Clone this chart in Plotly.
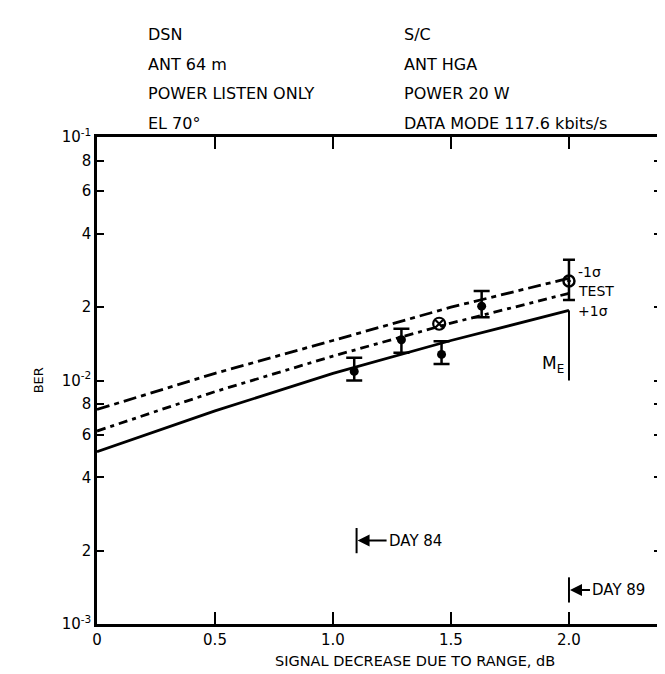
import numpy as np
import plotly.graph_objects as go

# signal decrease (dB) where the three curves were read
curve_x = [0.0, 0.5, 1.0, 1.5, 2.0]
ber_minus1s = [7.6e-3, 1.07e-2, 1.46e-2, 2.0e-2, 2.63e-2]
ber_test = [6.2e-3, 9.0e-3, 1.26e-2, 1.72e-2, 2.28e-2]
ber_plus1s = [5.1e-3, 7.5e-3, 1.07e-2, 1.46e-2, 1.94e-2]

# measured points with error bars
pt_x = [1.09, 1.29, 1.46, 1.63]
pt_y = [1.09e-2, 1.47e-2, 1.28e-2, 2.02e-2]
pt_hi = [1.24e-2, 1.63e-2, 1.45e-2, 2.33e-2]
pt_lo = [1.00e-2, 1.30e-2, 1.17e-2, 1.82e-2]

cross_x = [1.45]
cross_y = [1.71e-2]

end_x = [2.0]
end_y = [2.56e-2]
end_hi = [3.13e-2]
end_lo = [2.14e-2]

me_x = [2.0, 2.0]
me_y = [1.0e-2, 1.94e-2]

day_x = [1.10, 2.0]
day_y = [2.2e-3, 1.38e-3]
day_text = ["DAY 84", "DAY 89"]

y_tickvals = [1e-3, 2e-3, 4e-3, 6e-3, 8e-3, 1e-2, 2e-2, 4e-2, 6e-2, 8e-2, 1e-1]
y_ticktext = ["10<sup>-3</sup>", "2", "4", "6", "8", "10<sup>-2</sup>", "2", "4", "6", "8", "10<sup>-1</sup>"]
x_tickvals = [0, 0.5, 1.0, 1.5, 2.0]
x_ticktext = ["0", "0.5", "1.0", "1.5", "2.0"]

header_left = ["DSN", "ANT 64 m", "POWER LISTEN ONLY", "EL 70°"]
header_right = ["S/C", "ANT HGA", "POWER 20 W", "DATA MODE 117.6 kbits/s"]

FONT = "DejaVu Sans"
ink = "black"

fig = go.Figure()

fig.add_trace(go.Scatter(x=curve_x, y=ber_minus1s, mode="lines",
                         line=dict(color=ink, width=2.8, dash="13px,5px,5px,5px")))
fig.add_trace(go.Scatter(x=curve_x, y=ber_test, mode="lines",
                         line=dict(color=ink, width=2.8, dash="9px,5px,4px,5px")))
fig.add_trace(go.Scatter(x=curve_x, y=ber_plus1s, mode="lines",
                         line=dict(color=ink, width=2.8)))

fig.add_trace(go.Scatter(x=me_x, y=me_y, mode="lines", line=dict(color=ink, width=2)))

fig.add_trace(go.Scatter(
    x=pt_x, y=pt_y, mode="markers",
    marker=dict(color=ink, size=9),
    error_y=dict(type="data", symmetric=False,
                 array=np.array(pt_hi) - np.array(pt_y),
                 arrayminus=np.array(pt_y) - np.array(pt_lo),
                 color=ink, thickness=2.5, width=8),
))
fig.add_trace(go.Scatter(
    x=end_x, y=end_y, mode="markers",
    marker=dict(color=ink, size=11, symbol="circle-open-dot", line=dict(width=2.5)),
    error_y=dict(type="data", symmetric=False,
                 array=np.array(end_hi) - np.array(end_y),
                 arrayminus=np.array(end_y) - np.array(end_lo),
                 color=ink, thickness=2.5, width=6),
))
fig.add_trace(go.Scatter(
    x=cross_x, y=cross_y, mode="markers",
    marker=dict(color=ink, size=12, symbol="circle-x-open", line=dict(width=2.2)),
))

# day markers: vertical bar with an arrow pointing at it
fig.add_trace(go.Scatter(
    x=day_x, y=day_y, mode="markers",
    marker=dict(symbol="line-ns-open", size=18, color=ink, line=dict(color=ink, width=2)),
))

annotations = []
for dx, dy, dt, arrow_len in zip(day_x, day_y, day_text, [30, 21]):
    annotations.append(dict(
        x=dx, y=np.log10(dy), xref="x", yref="y", text=dt,
        showarrow=True, ax=arrow_len, ay=0, xanchor="left",
        arrowhead=2, arrowsize=1.2, arrowwidth=2, arrowcolor=ink, standoff=1,
        font=dict(family=FONT, size=15, color=ink),
    ))

# curve labels, nudged apart a little so they stack like the original
for lbl, vals, shift in zip(["-1σ", "TEST", "+1σ"], [ber_minus1s, ber_test, ber_plus1s], [6, 2, -1]):
    annotations.append(dict(
        x=curve_x[-1], y=np.log10(vals[-1]), xref="x", yref="y", text=lbl,
        showarrow=False, xanchor="left", xshift=7, yshift=shift,
        font=dict(family=FONT, size=14, color=ink),
    ))

annotations.append(dict(
    x=me_x[0], y=np.log10(1.16e-2), xref="x", yref="y", text="M<sub>E</sub>",
    showarrow=False, xanchor="right", xshift=-3,
    font=dict(family=FONT, size=17, color=ink),
))

for i, (a, b) in enumerate(zip(header_left, header_right)):
    yy = 1.234 - i * 0.061
    annotations.append(dict(x=0.086, y=yy, xref="paper", yref="paper", text=a,
                            showarrow=False, xanchor="left",
                            font=dict(family=FONT, size=16, color=ink)))
    annotations.append(dict(x=0.541, y=yy, xref="paper", yref="paper", text=b,
                            showarrow=False, xanchor="left",
                            font=dict(family=FONT, size=16, color=ink)))

annotations.append(dict(x=0.563, y=-0.097, xref="paper", yref="paper",
                        text="SIGNAL DECREASE DUE TO RANGE, dB", showarrow=False,
                        font=dict(family=FONT, size=14.5, color=ink)))
annotations.append(dict(x=-0.12, y=0.5, xref="paper", yref="paper", text="BER",
                        textangle=-90, showarrow=False,
                        font=dict(family=FONT, size=13, color=ink)))

fig.update_layout(
    width=665, height=674,
    margin=dict(l=89, r=9, t=129, b=58),
    paper_bgcolor="white", plot_bgcolor="white",
    showlegend=False,
    font=dict(family=FONT, size=15, color=ink),
    xaxis=dict(range=[0, 2.39], tickvals=x_tickvals, ticktext=x_ticktext,
               ticks="inside", ticklen=12, tickwidth=2, tickcolor=ink,
               showline=True, linewidth=2.5, linecolor=ink, mirror="ticks",
               showgrid=False, zeroline=False),
    yaxis=dict(type="log", range=[-3, -1], tickvals=y_tickvals, ticktext=y_ticktext,
               ticks="inside", ticklen=7, tickwidth=2, tickcolor=ink,
               showline=True, linewidth=2.5, linecolor=ink, mirror="ticks",
               showgrid=False, zeroline=False),
    yaxis2=dict(type="log", range=[-3, -1], overlaying="y", tickvals=[1e-2],
                ticks="inside", ticklen=15, tickwidth=2, tickcolor=ink,
                showticklabels=False, showline=False, mirror="ticks",
                showgrid=False, zeroline=False),
    annotations=annotations,
)

fig.write_html("out.html")
